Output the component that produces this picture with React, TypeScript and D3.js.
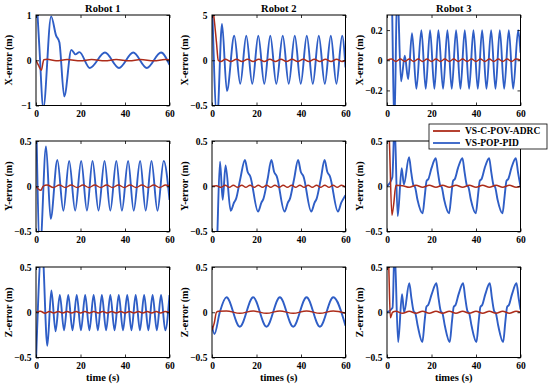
import React, { useEffect, useRef } from "react";
import * as d3 from "d3";

type Pt = [number, number];

// x ticks and y ticks for every panel
const timeTicks = [0, 20, 40, 60];
const robots = ["Robot 1", "Robot 2", "Robot 3"];
const rowLabels = ["X-error (m)", "Y-error (m)", "Z-error (m)"];
const timeLabels = ["time (s)", "times (s)", "times (s)"];
const seriesNames = ["VS-C-POV-ADRC", "VS-POP-PID"];

const yDomains: [number, number][][] = [
  [[-1, 1], [-0.5, 0.5], [-0.3, 0.3]],
  [[-0.5, 0.5], [-0.5, 0.5], [-0.5, 0.5]],
  [[-0.5, 0.5], [-0.5, 0.5], [-0.5, 0.5]],
];
const yTickValues: number[][][] = [
  [[-1, 0, 1], [-0.5, 0, 0.5], [-0.2, 0, 0.2]],
  [[-0.5, 0, 0.5], [-0.5, 0, 0.5], [-0.5, 0, 0.5]],
  [[-0.5, 0, 0.5], [-0.5, 0, 0.5], [-0.5, 0, 0.5]],
];
const yTickLabels: string[][][] = [
  [["−1", "0", "1"], ["−0.5", "0", "5"], ["−0.2", "0", "0.2"]],
  [["−0.5", "0", "0.5"], ["−0.5", "0", "0.5"], ["−0.5", "0", "0.5"]],
  [["−0.5", "0", "0.5"], ["−0.5", "0", "0.5"], ["−0.5", "0", "0.5"]],
];

// ---- X error ----
const r1x_pid: Pt[] = [[0,1.6],[1.5,0.3],[3.3,-1.05],[6.8,0.97],[9,0.55],[10.5,0.4],[12.7,-0.8],[15.9,0.23],[17.7,0.13],[19.5,0.18],[24.2,-0.17],[31,0.17],[37.3,-0.17],[43.7,0.17],[49.8,-0.17],[56.2,0.17],[60,-0.1]];
const r1x_adrc: Pt[] = [[0,0],[1.2,-0.12],[2.4,-0.22],[3.5,0.01],[5,0.02],[9,-0.01],[14,0.015],[20,-0.01],[25,0.015],[31,-0.01],[36,0.015],[42,-0.01],[47,0.015],[53,-0.01],[58,0.015],[60,0.01]];

const r2x_pid: Pt[] = [[0,0.7],[2.3,-0.65],[4.5,0.4],[6.7,-0.34],[10,0.27],[12.7,-0.26],[15.4,0.27],[18.1,-0.26],[20.8,0.27],[23.5,-0.26],[26.2,0.27],[28.9,-0.26],[31.8,0.27],[34.5,-0.26],[37.2,0.27],[39.9,-0.26],[42.6,0.27],[45.3,-0.26],[48,0.27],[50.7,-0.26],[53.4,0.27],[55.9,-0.26],[58.5,0.27],[60,-0.08]];
const r2x_adrc: Pt[] = [[0,0.65],[1,0.45],[2,0.2],[2.8,0],[4,-0.015],[6,0.012],[8.5,-0.015],[11,0.012],[13.5,-0.015],[16,0.012],[18.5,-0.015],[21,0.012],[23.5,-0.015],[26,0.012],[28.5,-0.015],[31,0.012],[33.5,-0.015],[36,0.012],[38.5,-0.015],[41,0.012],[43.5,-0.015],[46,0.012],[48.5,-0.015],[51,0.012],[53.5,-0.015],[56,0.012],[58.5,-0.015],[60,0]];

const r3x_pid: Pt[] = [[0,0.6],[2,0.5],[3.3,-0.45],[4.6,0.5],[6.3,-0.14],[8,0.03],[9.5,-0.125],[11.25,0.18],[13.2,-0.19],[15.45,0.2],[17.4,-0.19],[19.35,0.2],[21.3,-0.19],[23.1,0.2],[25.2,-0.19],[27.15,0.2],[29.1,-0.19],[31.05,0.2],[33,-0.19],[34.95,0.2],[36.9,-0.19],[38.85,0.2],[40.8,-0.19],[42.75,0.2],[44.7,-0.19],[46.8,0.2],[48.75,-0.19],[50.7,0.2],[52.65,-0.19],[54.75,0.2],[56.7,-0.19],[58.95,0.2],[60,0.05]];
const r3x_adrc: Pt[] = [[0,0],[2,0.008],[4,-0.008],[6,0.008],[8,-0.008],[10,0.008],[12,-0.008],[14,0.008],[16,-0.008],[18,0.008],[20,-0.008],[22,0.008],[24,-0.008],[26,0.008],[28,-0.008],[30,0.008],[32,-0.008],[34,0.008],[36,-0.008],[38,0.008],[40,-0.008],[42,0.008],[44,-0.008],[46,0.008],[48,-0.008],[50,0.008],[52,-0.008],[54,0.008],[56,-0.008],[58,0.008],[60,0]];

// ---- Y error ----
const r1y_pid: Pt[] = [[0,0.9],[1.8,-0.7],[4.5,0.44],[6.6,-0.36],[9.6,0.29],[12.3,-0.27],[14.9,0.28],[17.6,-0.27],[20.3,0.28],[22.9,-0.27],[25.4,0.28],[28.1,-0.27],[30.8,0.28],[33.4,-0.27],[36.1,0.28],[38.6,-0.27],[41.4,0.28],[43.9,-0.27],[46.8,0.28],[49.3,-0.27],[51.9,0.28],[54.6,-0.27],[57.4,0.28],[60,-0.15]];
const r1y_adrc: Pt[] = [[0,0],[1,-0.03],[2.2,-0.045],[3.2,0],[5,0.015],[7.8,-0.015],[10.5,0.015],[13.2,-0.015],[15.8,0.015],[18.5,-0.015],[21.1,0.015],[23.8,-0.015],[26.4,0.015],[29.1,-0.015],[31.7,0.015],[34.4,-0.015],[37,0.015],[39.7,-0.015],[42.3,0.015],[45,-0.015],[47.6,0.015],[50.3,-0.015],[52.9,0.015],[55.6,-0.015],[58.2,0.015],[60,0]];

const r2y_pid: Pt[] = [[0,-1.2],[2,-0.8],[3.6,0.27],[4.8,-0.15],[6.1,0.23],[8.4,-0.27],[9.9,-0.18],[10.8,-0.14],[12.7,0.08],[14.8,0.29],[16,0.16],[17.2,0.11],[20.7,-0.28],[22.2,-0.18],[23.1,-0.14],[25,0.08],[26.7,0.29],[27.9,0.16],[29.1,0.11],[32.6,-0.28],[34.1,-0.18],[35,-0.14],[36.9,0.08],[38.7,0.29],[39.9,0.16],[41.1,0.11],[44.6,-0.28],[46.1,-0.18],[47,-0.14],[48.9,0.08],[50.6,0.29],[51.8,0.16],[53,0.11],[56.6,-0.28],[58.1,-0.18],[59,-0.14],[60,-0.1]];
const r2y_adrc: Pt[] = [[0,0],[2,0.005],[4,-0.012],[5.9,0.012],[7.8,-0.012],[9.6,0.012],[11.5,-0.012],[13.4,0.012],[15.2,-0.012],[17.1,0.012],[19,-0.012],[20.8,0.012],[22.7,-0.012],[24.6,0.012],[26.4,-0.012],[28.3,0.012],[30.2,-0.012],[32,0.012],[33.9,-0.012],[35.8,0.012],[37.6,-0.012],[39.5,0.012],[41.4,-0.012],[43.2,0.012],[45.1,-0.012],[47,0.012],[48.8,-0.012],[50.7,0.012],[52.6,-0.012],[54.4,0.012],[56.3,-0.012],[58.2,0.012],[60,-0.01]];

const r3y_pid: Pt[] = [[0,0],[2.4,0.1],[3.4,0.7],[4.8,-0.33],[6.6,0.2],[7.6,0.02],[9.9,0.32],[10.9,0.15],[11.9,0.01],[12.6,-0.01],[13.7,-0.15],[16,-0.3],[17,-0.1],[17.8,0.06],[18.6,0.08],[20,0.2],[21.9,0.31],[22.9,0.15],[23.9,0.01],[24.6,-0.01],[25.7,-0.15],[27.9,-0.3],[28.9,-0.1],[29.7,0.06],[30.5,0.08],[31.9,0.2],[33.9,0.31],[34.9,0.15],[35.9,0.01],[36.6,-0.01],[37.7,-0.15],[39.9,-0.3],[40.9,-0.1],[41.7,0.06],[42.5,0.08],[43.9,0.2],[45.9,0.31],[46.9,0.15],[47.9,0.01],[48.6,-0.01],[49.7,-0.15],[51.9,-0.3],[52.9,-0.1],[53.7,0.06],[54.5,0.08],[55.9,0.2],[57.9,0.31],[58.9,0.15],[60,0]];
const r3y_adrc: Pt[] = [[0,0.9],[1,0.55],[2.2,-0.32],[3,-0.2],[4,0.01],[7,0.005],[10,-0.012],[13,0.012],[16,-0.012],[19,0.012],[22,-0.012],[25,0.012],[28,-0.012],[31,0.012],[34,-0.012],[37,0.012],[40,-0.012],[43,0.012],[46,-0.012],[49,0.012],[52,-0.012],[55,0.012],[58,-0.012],[60,0]];

// ---- Z error ----
const r1z_pid: Pt[] = [[0,-0.55],[2.7,0.75],[5.1,-0.37],[6.9,0.24],[8.8,-0.21],[10.7,0.19],[12.6,-0.2],[14.5,0.19],[16.4,-0.2],[18.3,0.19],[20.2,-0.2],[22.1,0.19],[24,-0.2],[25.9,0.19],[27.8,-0.2],[29.6,0.19],[31.5,-0.2],[33.4,0.19],[35.3,-0.2],[37.2,0.19],[39.1,-0.2],[41,0.19],[42.9,-0.2],[44.8,0.19],[46.7,-0.2],[48.6,0.19],[50.5,-0.2],[52.4,0.19],[54.3,-0.2],[56.2,0.19],[58.1,-0.2],[60,0.19]];
const r1z_adrc: Pt[] = [[0,0],[2,0.01],[4,-0.01],[6,0.008],[8,-0.008],[10,0.008],[12,-0.008],[14,0.008],[16,-0.008],[18,0.008],[20,-0.008],[22,0.008],[24,-0.008],[26,0.008],[28,-0.008],[30,0.008],[32,-0.008],[34,0.008],[36,-0.008],[38,0.008],[40,-0.008],[42,0.008],[44,-0.008],[46,0.008],[48,-0.008],[50,0.008],[52,-0.008],[54,0.008],[56,-0.008],[58,0.008],[60,0]];

const r2z_pid: Pt[] = [[0,-0.15],[1.1,-0.24],[3.5,0],[6.5,0.165],[12.5,-0.16],[18.5,0.165],[24.5,-0.16],[30.5,0.165],[36.5,-0.16],[42.5,0.165],[48.5,-0.16],[54.5,0.165],[60,-0.15]];
const r2z_adrc: Pt[] = [[0,-0.2],[1,-0.12],[2,0],[3,0.01],[6.5,0.015],[12.5,-0.012],[18.5,0.015],[24.5,-0.012],[30.5,0.015],[36.5,-0.012],[42.5,0.015],[48.5,-0.012],[54.5,0.015],[60,-0.01]];

const r3z_pid: Pt[] = [[0,0],[2.5,0.05],[3.4,0.7],[5,-0.33],[6.75,0.2],[7.7,0],[10,0.32],[11,0.15],[12,0.01],[12.7,-0.01],[13.8,-0.15],[15.9,-0.33],[16.9,-0.1],[17.7,0.06],[18.5,0.08],[20.1,0.2],[22.2,0.32],[23.2,0.15],[24.2,0.01],[24.9,-0.01],[26,-0.15],[28.2,-0.33],[29.2,-0.1],[30,0.06],[30.8,0.08],[32.2,0.2],[34.2,0.32],[35.2,0.15],[36.2,0.01],[36.9,-0.01],[38,-0.15],[40.2,-0.33],[41.2,-0.1],[42,0.06],[42.8,0.08],[44.2,0.2],[46.2,0.32],[47.2,0.15],[48.2,0.01],[48.9,-0.01],[50,-0.15],[52.2,-0.33],[53.2,-0.1],[54,0.06],[54.8,0.08],[56.2,0.2],[58.2,0.32],[59.2,0.15],[60,0.03]];
const r3z_adrc: Pt[] = [[0,0.9],[0.8,0.5],[1.5,-0.06],[2.5,0],[4,0.01],[7,-0.012],[10,0.012],[13,-0.012],[16,0.012],[19,-0.012],[22,0.012],[25,-0.012],[28,0.012],[31,-0.012],[34,0.012],[37,-0.012],[40,0.012],[43,-0.012],[46,0.012],[49,-0.012],[52,0.012],[55,-0.012],[58,0.012],[60,0]];

const pidSeries: Pt[][][] = [
  [r1x_pid, r2x_pid, r3x_pid],
  [r1y_pid, r2y_pid, r3y_pid],
  [r1z_pid, r2z_pid, r3z_pid],
];
const adrcSeries: Pt[][][] = [
  [r1x_adrc, r2x_adrc, r3x_adrc],
  [r1y_adrc, r2y_adrc, r3y_adrc],
  [r1z_adrc, r2z_adrc, r3z_adrc],
];

const RED = "#ad2c1a";
const BLUE = "#2f5ec6";
const FONT = "'Liberation Serif', 'Times New Roman', serif";

const colX = [36, 212, 387];
const colW = 133.5;
const rowY = [15, 141, 267];
const rowH = 90.5;

export default function App() {
  const ref = useRef<SVGSVGElement>(null);

  useEffect(() => {
    const svg = d3.select(ref.current);
    svg.selectAll("*").remove();

    const line = (x: any, y: any) =>
      d3.line<Pt>()
        .x(d => x(d[0]))
        .y(d => y(d[1]))
        .curve(d3.curveMonotoneX);

    rowY.forEach((top, r) => {
      colX.forEach((left, c) => {
        const x = d3.scaleLinear().domain([0, 60]).range([0, colW]);
        const y = d3.scaleLinear().domain(yDomains[r][c]).range([rowH, 0]);
        const g = svg.append("g").attr("transform", `translate(${left},${top})`);
        const clipId = `clip-${r}-${c}`;

        g.append("clipPath").attr("id", clipId)
          .append("rect").attr("width", colW).attr("height", rowH);

        const plot = g.append("g").attr("clip-path", `url(#${clipId})`);
        plot.append("path")
          .datum(pidSeries[r][c])
          .attr("fill", "none")
          .attr("stroke", BLUE)
          .attr("stroke-width", 1.9)
          .attr("stroke-linejoin", "round")
          .attr("d", line(x, y));
        plot.append("path")
          .datum(adrcSeries[r][c])
          .attr("fill", "none")
          .attr("stroke", RED)
          .attr("stroke-width", 1.5)
          .attr("stroke-linejoin", "round")
          .attr("d", line(x, y));

        const labels = yTickLabels[r][c];
        const ticks = yTickValues[r][c];

        // axes, ticks pointing inward (matlab style)
        const bottom = g.append("g").attr("transform", `translate(0,${rowH})`)
          .call(d3.axisBottom(x).tickValues(timeTicks).tickSize(-3).tickPadding(5).tickFormat(d => String(d)));
        const topAx = g.append("g")
          .call(d3.axisTop(x).tickValues(timeTicks).tickSize(-3).tickFormat(() => ""));
        const leftAx = g.append("g")
          .call(d3.axisLeft(y).tickValues(ticks).tickSize(-3).tickPadding(4.5)
            .tickFormat((d, i) => labels[i]));
        const rightAx = g.append("g").attr("transform", `translate(${colW},0)`)
          .call(d3.axisRight(y).tickValues(ticks).tickSize(-3).tickFormat(() => ""));

        [bottom, topAx, leftAx, rightAx].forEach(a => {
          a.select(".domain").remove();
          a.attr("font-family", FONT).attr("font-size", 9.5).attr("font-weight", "bold");
          a.selectAll("line").attr("stroke", "#000").attr("stroke-width", 0.8);
          a.selectAll("text").attr("fill", "#000");
        });

        g.append("rect")
          .attr("width", colW).attr("height", rowH)
          .attr("fill", "none").attr("stroke", "#000").attr("stroke-width", 1);

        // y label
        g.append("text")
          .attr("transform", `translate(${-24},${rowH / 2}) rotate(-90)`)
          .attr("text-anchor", "middle")
          .attr("font-family", FONT).attr("font-size", 10).attr("font-weight", "bold")
          .text(rowLabels[r]);

        if (r === 0) {
          g.append("text")
            .attr("x", colW / 2).attr("y", -3)
            .attr("text-anchor", "middle")
            .attr("font-family", FONT).attr("font-size", 10.5).attr("font-weight", "bold")
            .text(robots[c]);
        }
        if (r === 2) {
          g.append("text")
            .attr("x", colW / 2).attr("y", rowH + 23)
            .attr("text-anchor", "middle")
            .attr("font-family", FONT).attr("font-size", 10.5).attr("font-weight", "bold")
            .text(timeLabels[c]);
        }
      });
    });

    // legend
    const lg = svg.append("g").attr("transform", "translate(429,124)");
    lg.append("rect").attr("width", 118).attr("height", 25)
      .attr("fill", "#fff").attr("stroke", "#000").attr("stroke-width", 0.8);
    [RED, BLUE].forEach((col, i) => {
      const yy = 7 + i * 12;
      lg.append("line").attr("x1", 4).attr("x2", 31).attr("y1", yy).attr("y2", yy)
        .attr("stroke", col).attr("stroke-width", 1.8);
      lg.append("text").attr("x", 36).attr("y", yy).attr("dy", "0.35em")
        .attr("font-family", FONT).attr("font-size", 9.5).attr("font-weight", "bold")
        .text(seriesNames[i]);
    });
  }, []);

  return (
    <svg ref={ref} width={550} height={388}
      style={{ position: "absolute", left: 0, top: 0, background: "#fff" }} />
  );
}
